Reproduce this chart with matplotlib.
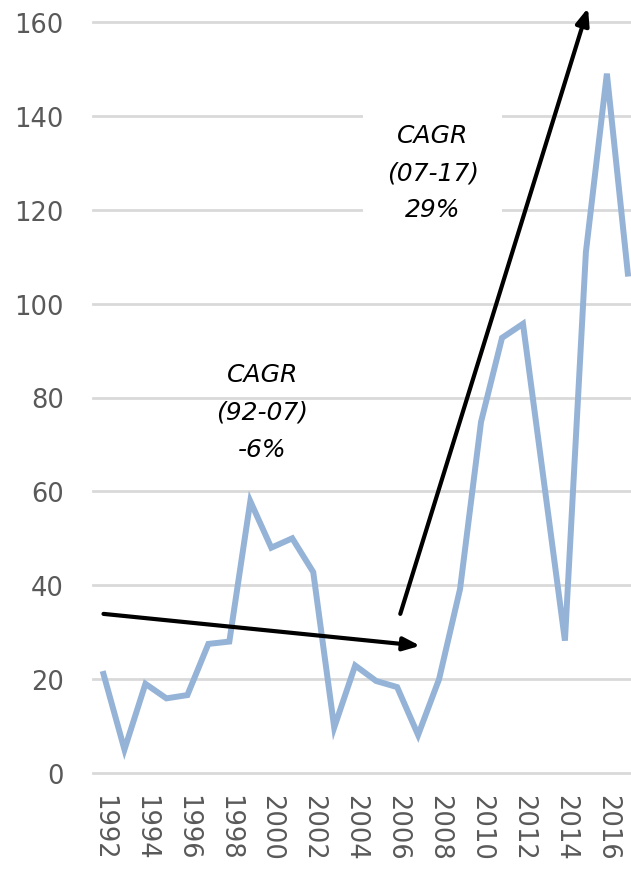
import matplotlib
matplotlib.use("Agg")
import matplotlib.pyplot as plt

years = list(range(1992, 2018))
values = [21.1, 5.0, 19.0, 15.9, 16.6, 27.5, 28.0, 57.9, 48.0, 50.0, 42.8, 9.7, 22.9,
          19.6, 18.3, 8.1, 20.0, 39.2, 74.8, 92.7, 95.7, 62.0, 28.2, 111.0, 149.0, 106.4]
tick_years = list(range(1992, 2017, 2))
y_ticks = list(range(0, 161, 20))

LINE = "#95b3d7"
GRID = "#d9d9d9"
TXT = "#595959"

fig = plt.figure(figsize=(6.31, 8.70), dpi=100)
ax = fig.add_axes([93 / 631, 1 - 774 / 870, 1 - 93 / 631, (774 - 23) / 870])

ax.plot(years, values, color=LINE, linewidth=4.3, solid_joinstyle="miter", zorder=3)

ax.set_xlim(1991.5, 2017.15)
ax.set_ylim(0, 160)
ax.set_yticks(y_ticks)
ax.set_xticks(tick_years)
ax.set_xticklabels([str(y) for y in tick_years], rotation=-90, va="top", ha="center")
ax.tick_params(axis="both", length=0, labelsize=18.5, labelcolor=TXT)
ax.tick_params(axis="y", pad=21)
ax.tick_params(axis="x", pad=15)
for s in ax.spines.values():
    s.set_visible(False)
ax.grid(True, axis="y", color=GRID, linewidth=2)
for gl in ax.get_ygridlines():
    gl.set_clip_on(False)
ax.set_axisbelow(True)

# CAGR annotations
ax.text(1999.57, 77, "CAGR\n(92-07)\n-6%", ha="center", va="center", fontsize=18,
        style="italic", linespacing=1.7, zorder=4)
ax.text(2007.7, 128, "CAGR\n(07-17)\n29%", ha="center", va="center", fontsize=18,
        style="italic", linespacing=1.7, zorder=4,
        bbox=dict(facecolor="white", edgecolor="none", pad=17))

arrow = dict(arrowstyle="-|>,head_length=1.0,head_width=0.4", color="black",
             linewidth=3, shrinkA=0, shrinkB=0)
ax.annotate("", xy=(2007.1, 27.1), xytext=(1992.0, 33.9), arrowprops=arrow,
            annotation_clip=False, zorder=5)
ax.annotate("", xy=(2015.1, 163.0), xytext=(2006.15, 33.9), arrowprops=arrow,
            annotation_clip=False, zorder=5)

fig.savefig("out.png", dpi=100)
